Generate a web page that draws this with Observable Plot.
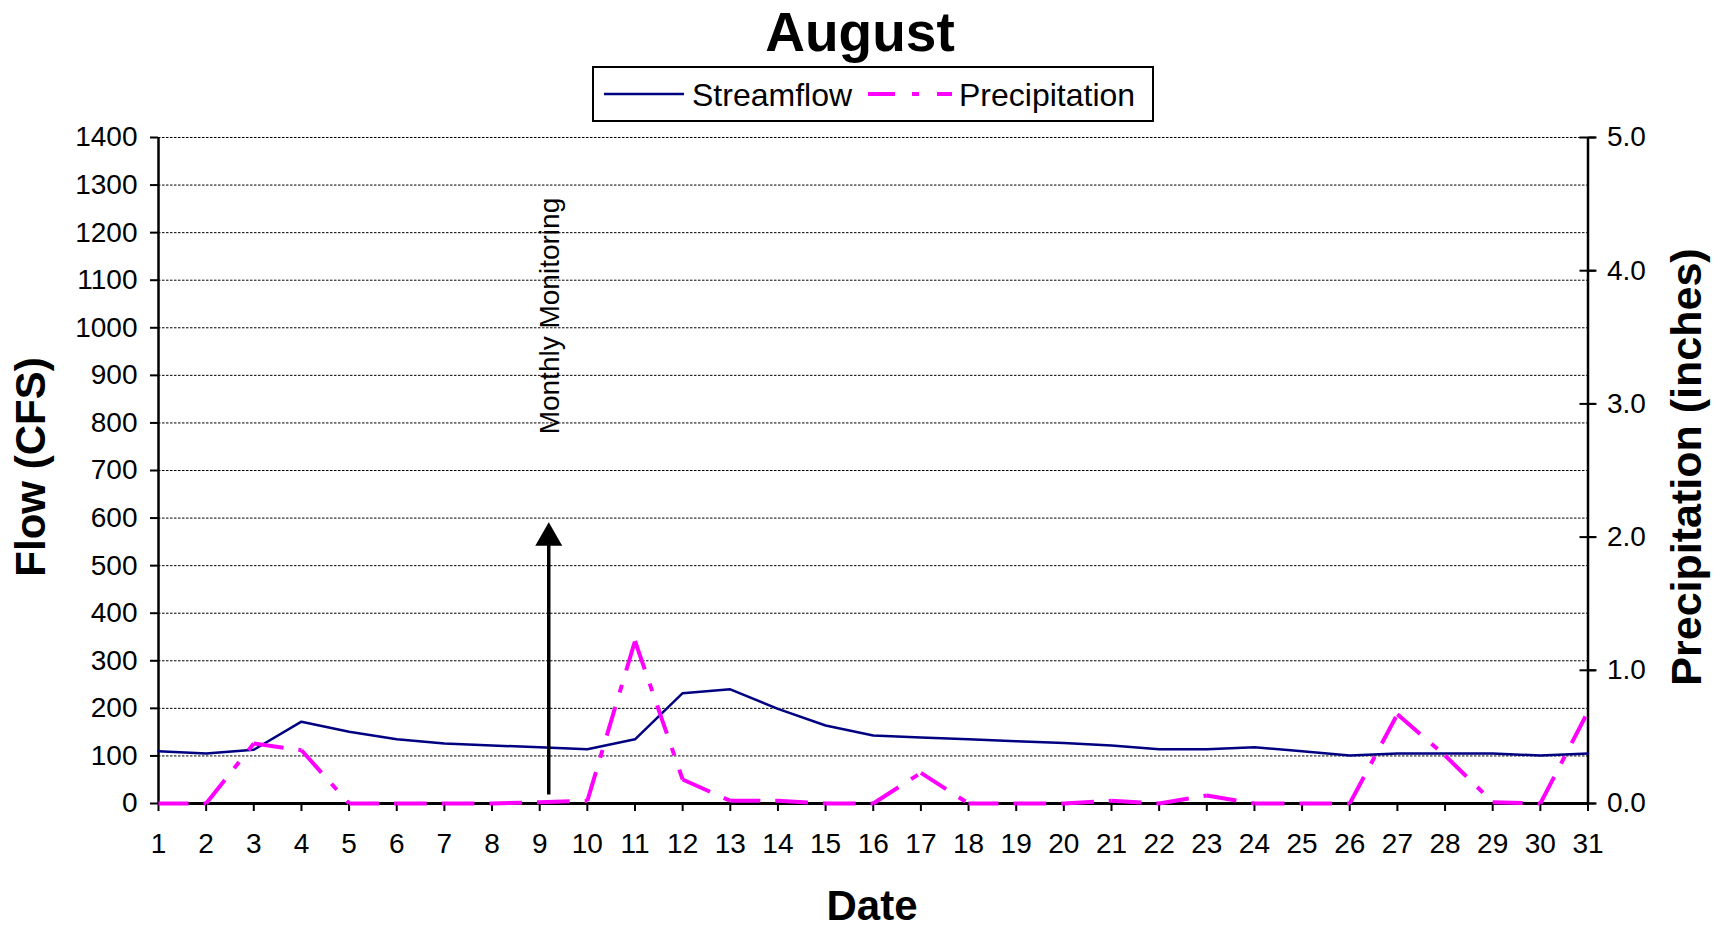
<!DOCTYPE html>
<html><head><meta charset="utf-8">
<script src="https://cdn.jsdelivr.net/npm/d3@7"></script>
<script src="https://cdn.jsdelivr.net/npm/@observablehq/plot@0.6"></script>
<style>
html,body{margin:0;padding:0;background:#fff;}
#wrap{position:relative;width:1722px;height:932px;overflow:hidden;font-family:'Liberation Sans',Arial,sans-serif;background:#fff;}
#wrap > svg{position:absolute;left:0;top:0;}
</style></head><body><div id="wrap"></div>
<script>
// ---- data ----
const days = [1,2,3,4,5,6,7,8,9,10,11,12,13,14,15,16,17,18,19,20,21,22,23,24,25,26,27,28,29,30,31];
const streamflow = [110,105,113,172,151,135,126,122,118,114,135,232,240,199,164,143,139,135,131,127,122,114,114,118,110,101,105,105,105,101,105];
const precipitation = [0,0,0.45,0.40,0,0,0,0,0.01,0.02,1.22,0.18,0.02,0.02,0,0,0.23,0,0,0,0.02,0,0.06,0,0,0,0.67,0.36,0.01,0,0.69];
const flowTicks = [0,100,200,300,400,500,600,700,800,900,1000,1100,1200,1300,1400];
const precipTicks = [0,1,2,3,4,5];
const flowMax = 1400, precipMax = 5;
const seriesNames = ["Streamflow", "Precipitation"];
const seriesColors = ["#000080", "#FF00FF"];
const annotation = {day: 9.19, from: 18, to: 591, labelDay: 9.22, labelFlow: 776, text: "Monthly Monitoring"};
const titleText = "August", xTitle = "Date", yTitle = "Flow (CFS)", y2Title = "Precipitation (inches)";
const FONT = "'Liberation Sans', Arial, sans-serif";

// ---- derived ----
const k = flowMax / precipMax;
const rows = days.map((d, i) => ({day: d, flow: streamflow[i], precip: precipitation[i]}));
const segs = rows.slice(0, -1).map((r, i) => ({x1: r.day, y1: r.precip * k, x2: rows[i + 1].day, y2: rows[i + 1].precip * k}));

const chart = Plot.plot({
  width: 1722, height: 932,
  marginLeft: 158, marginRight: 134.5, marginTop: 137, marginBottom: 129,
  x: {domain: [1, 31]},
  y: {domain: [0, flowMax]},
  style: {fontFamily: FONT, background: "white", color: "#000", overflow: "visible"},
  marks: [
    Plot.ruleY(flowTicks.slice(1), {x1: 1, x2: 31, stroke: "#000", strokeWidth: 1, strokeDasharray: "2.5,1.5"}),
    Plot.axisY({ticks: flowTicks, tickFormat: d => String(d), tickSize: 8, tickPadding: 13, fontSize: 28, label: null, strokeWidth: 2}),
    Plot.axisY({anchor: "right", ticks: precipTicks.map(v => v * k), tickFormat: v => (v / k).toFixed(1), tickSize: 8, tickPadding: 11, fontSize: 28, label: null, strokeWidth: 2}),
    Plot.ruleY(precipTicks, {y: v => v * k, x1: 31, x2: 31, insetLeft: -8, insetRight: -8, strokeWidth: 2}),
    Plot.axisX({ticks: days, tickFormat: d => String(d), tickSize: 8, tickPadding: 22, fontSize: 28, label: null, strokeWidth: 2}),
    Plot.ruleX([1, 31], {y1: 0, y2: flowMax, strokeWidth: 2.5}),
    Plot.ruleY([0], {x1: 1, x2: 31, strokeWidth: 3}),
    Plot.line(rows, {x: "day", y: "flow", stroke: seriesColors[0], strokeWidth: 2.5}),
    Plot.link(segs, {x1: "x1", y1: "y1", x2: "x2", y2: "y2", stroke: seriesColors[1], strokeWidth: 4, strokeDasharray: "30,15,8,15"}),
    Plot.ruleX([annotation], {x: "day", y1: "from", y2: d => d.to - 30, strokeWidth: 3.5}),
    Plot.dot([annotation], {x: "day", y: "to", symbol: "triangle", r: 10, fill: "#000", stroke: null, dy: 15.5}),
    Plot.text([annotation], {x: "labelDay", y: "labelFlow", text: "text", rotate: -90, textAnchor: "start", lineAnchor: "middle", fontSize: 28})
  ]
});
const wrap = document.getElementById("wrap");
wrap.appendChild(chart);

// ---- title, legend, axis titles (overlay) ----
const ov = d3.create("svg").attr("width", 1722).attr("height", 932).style("pointer-events", "none").style("font-family", FONT);
ov.append("text").attr("x", 860).attr("y", 51).attr("text-anchor", "middle").attr("font-weight", "bold").attr("font-size", 55).text(titleText);
// legend
const lg = ov.append("g");
lg.append("rect").attr("x", 593).attr("y", 67).attr("width", 560).attr("height", 54).attr("fill", "white").attr("stroke", "#000").attr("stroke-width", 2);
lg.append("line").attr("x1", 604).attr("x2", 684).attr("y1", 94).attr("y2", 94).attr("stroke", seriesColors[0]).attr("stroke-width", 2.5);
lg.append("text").attr("x", 692).attr("y", 106).attr("font-size", 32).text(seriesNames[0]);
lg.append("line").attr("x1", 868).attr("x2", 952).attr("y1", 94).attr("y2", 94).attr("stroke", seriesColors[1]).attr("stroke-width", 4).attr("stroke-dasharray", "27,17,7,18");
lg.append("text").attr("x", 959).attr("y", 106).attr("font-size", 32).text(seriesNames[1]);
// axis titles
ov.append("text").attr("x", 872).attr("y", 920).attr("text-anchor", "middle").attr("font-weight", "bold").attr("font-size", 42).text(xTitle);
ov.append("text").attr("transform", "translate(45,467) rotate(-90)").attr("text-anchor", "middle").attr("font-weight", "bold").attr("font-size", 42).text(yTitle);
ov.append("text").attr("transform", "translate(1701,467) rotate(-90)").attr("text-anchor", "middle").attr("font-weight", "bold").attr("font-size", 43).text(y2Title);
wrap.appendChild(ov.node());
</script>
</body></html>
